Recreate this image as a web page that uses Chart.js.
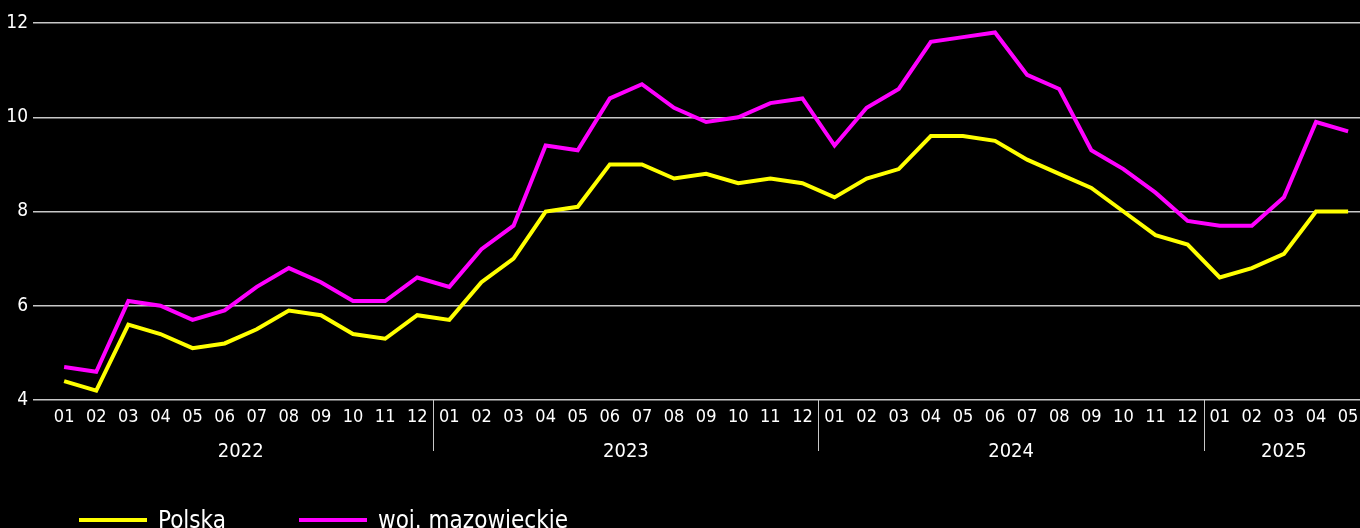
<!DOCTYPE html>
<html>
<head>
<meta charset="utf-8">
<script src="https://cdn.jsdelivr.net/npm/chart.js@4/dist/chart.umd.min.js"></script>
<style>
  html, body { margin: 0; padding: 0; background: #000; }
  #wrap { width: 1360px; height: 528px; }
</style>
</head>
<body>
<div id="wrap"><canvas id="myChart"></canvas></div>
<script>
// monthly values 2022-01 .. 2025-05
const years = ["2022", "2023", "2024", "2025"];
const monthsPerYear = [12, 12, 12, 5];
const monthLabels = [
  "01","02","03","04","05","06","07","08","09","10","11","12",
  "01","02","03","04","05","06","07","08","09","10","11","12",
  "01","02","03","04","05","06","07","08","09","10","11","12",
  "01","02","03","04","05"
];
const polska = [
  4.4, 4.2, 5.6, 5.4, 5.1, 5.2, 5.5, 5.9, 5.8, 5.4, 5.3, 5.8,
  5.7, 6.5, 7.0, 8.0, 8.1, 9.0, 9.0, 8.7, 8.8, 8.6, 8.7, 8.6,
  8.3, 8.7, 8.9, 9.6, 9.6, 9.5, 9.1, 8.8, 8.5, 8.0, 7.5, 7.3,
  6.6, 6.8, 7.1, 8.0, 8.0
];
const mazowieckie = [
  4.7, 4.6, 6.1, 6.0, 5.7, 5.9, 6.4, 6.8, 6.5, 6.1, 6.1, 6.6,
  6.4, 7.2, 7.7, 9.4, 9.3, 10.4, 10.7, 10.2, 9.9, 10.0, 10.3, 10.4,
  9.4, 10.2, 10.6, 11.6, 11.7, 11.8, 10.9, 10.6, 9.3, 8.9, 8.4, 7.8,
  7.7, 7.7, 8.3, 9.9, 9.7
];
const yTicks = [4, 6, 8, 10, 12];

const FONT = "'Liberation Sans Narrow', 'DejaVu Sans Condensed', sans-serif";
const YELLOW = "#ffff00";
const MAGENTA = "#ff00ff";

let toPoints = (arr) => arr.map((v, i) => ({ x: i, y: v }));

// year labels + separators under the month ticks, and the legend
const extras = {
  id: "extras",
  afterDraw(chart) {
    const ctx = chart.ctx;
    const xs = chart.scales.x;
    const bottom = chart.chartArea.bottom;
    ctx.save();
    ctx.fillStyle = "#ffffff";
    ctx.font = "20px " + FONT;
    ctx.textAlign = "center";
    ctx.textBaseline = "middle";
    let start = 0;
    for (let k = 0; k < years.length; k++) {
      let end = start + monthsPerYear[k] - 1;
      let cx = (xs.getPixelForValue(start) + xs.getPixelForValue(end)) / 2;
      ctx.fillText(years[k], cx, 452);
      if (k > 0) {
        let sx = Math.round(xs.getPixelForValue(start - 0.5)) + 0.5;
        ctx.strokeStyle = "#c8c8c8";
        ctx.lineWidth = 1;
        ctx.beginPath();
        ctx.moveTo(sx, bottom);
        ctx.lineTo(sx, 451);
        ctx.stroke();
      }
      start = end + 1;
    }

    // legend
    const items = [
      { text: "Polska", color: YELLOW, x: 79 },
      { text: "woj. mazowieckie", color: MAGENTA, x: 299 },
    ];
    ctx.font = "24px " + FONT;
    ctx.textAlign = "left";
    ctx.textBaseline = "alphabetic";
    items.forEach((it) => {
      ctx.fillStyle = it.color;
      ctx.fillRect(it.x, 518, 68, 4);
      ctx.fillStyle = "#ffffff";
      ctx.fillText(it.text, it.x + 79, 528);
    });
    ctx.restore();
  },
};

let ctx = document.getElementById("myChart").getContext("2d");

const myChart = new Chart(ctx, {
  type: "line",
  data: {
    datasets: [
      {
        label: "Polska",
        data: toPoints(polska),
        borderColor: YELLOW,
        backgroundColor: YELLOW,
        borderWidth: 4,
        pointRadius: 0,
        tension: 0,
      },
      {
        label: "woj. mazowieckie",
        data: toPoints(mazowieckie),
        borderColor: MAGENTA,
        backgroundColor: MAGENTA,
        borderWidth: 4,
        pointRadius: 0,
        tension: 0,
      },
    ],
  },
  options: {
    responsive: true,
    maintainAspectRatio: false,
    animation: false,
    layout: {
      padding: { top: 23, right: 0, left: 0, bottom: 0 },
    },
    plugins: {
      legend: { display: false },
      tooltip: { enabled: false },
    },
    scales: {
      x: {
        type: "linear",
        min: -0.97,
        max: 40.37,
        afterFit: (s) => {
          s.height = 128;
          s.paddingLeft = 0;
          s.paddingRight = 0;
        },
        grid: { display: false, drawTicks: false },
        border: { display: false },
        ticks: {
          stepSize: 1,
          includeBounds: false,
          autoSkip: false,
          maxRotation: 0,
          padding: 7,
          color: "#ffffff",
          font: { family: FONT, size: 18 },
          callback: (v) => monthLabels[v],
        },
      },
      y: {
        min: 4,
        max: 12,
        afterFit: (s) => { s.width = 33; },
        afterBuildTicks: (s) => { s.ticks = yTicks.map((v) => ({ value: v })); },
        grid: { color: "#c8c8c8", lineWidth: 1.5, drawTicks: false },
        border: { display: false },
        ticks: {
          padding: 5,
          color: "#ffffff",
          font: { family: FONT, size: 19 },
        },
      },
    },
  },
  plugins: [extras],
});
</script>
</body>
</html>
